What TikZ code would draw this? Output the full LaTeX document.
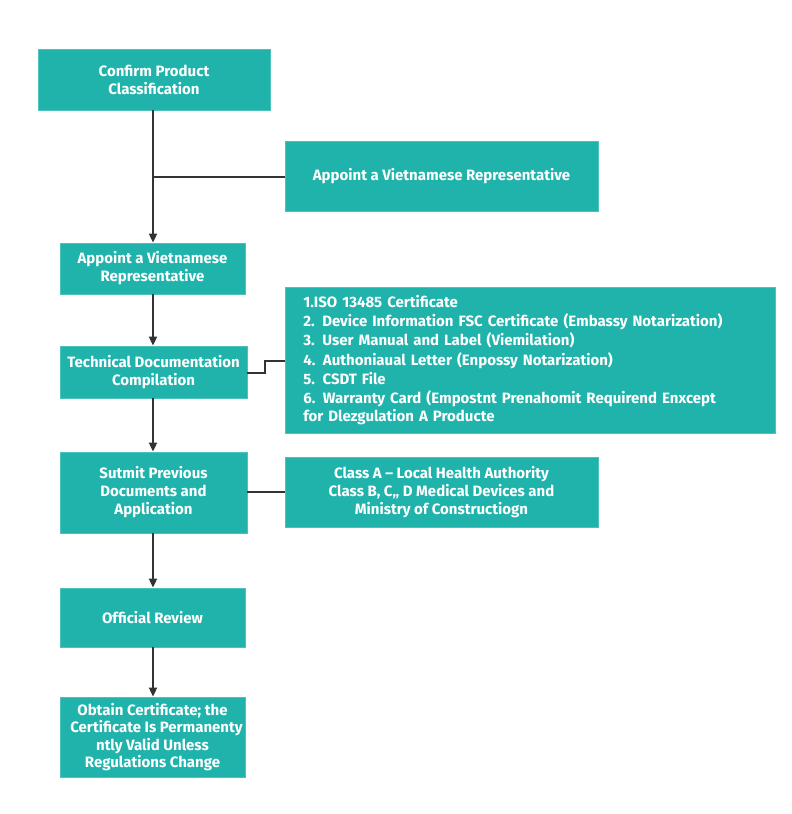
\documentclass[tikz,border=0pt]{standalone}
\usepackage{fontspec}
\setmainfont{Fira Sans}
\usetikzlibrary{arrows.meta}
\definecolor{teal1}{HTML}{20B3AC}
\definecolor{line1}{HTML}{333333}
\tikzset{
  box/.style={draw=teal1!80!white, line width=0.8pt, fill=teal1, text=white, align=center, font=\fontsize{15}{18}\selectfont\bfseries, inner sep=0pt},
  conn/.style={draw=line1, line width=1.8pt},
  arr/.style={conn, -{Triangle[length=9pt,width=8pt]}}
}
\begin{document}
\begin{tikzpicture}[x=1pt,y=-1pt]
\useasboundingbox (0,0) rectangle (792,814);
\fill[white] (0,0) rectangle (792,814);
% main column boxes
\node[box, minimum width=232pt, minimum height=61pt] (b1) at (154,79.5) {Confirm Product\\Classification};
\node[box, minimum width=185pt, minimum height=51pt] (b2) at (152.5,268.5) {Appoint a Vietnamese\\Representative};
\node[box, minimum width=187pt, minimum height=52pt] (b3) at (153.5,372) {Technical Documentation\\Compilation};
\node[box, minimum width=187pt, minimum height=81pt] (b4) at (153.5,492.5) {Sutmit Previous\\Documents and\\Application};
\node[box, minimum width=185pt, minimum height=59pt] (b5) at (152.5,617.5) {Official Review};
\node[box, minimum width=185pt, minimum height=80pt, font=\fontsize{15}{17.5}\selectfont\bfseries] (b6) at (152.5,737) {Obtain Certificate; the\\\hspace*{8pt}Certificate Is Permanenty\\ntly Valid Unless\hspace*{30pt}\\Regulations Change};
% side boxes
\node[box, minimum width=313pt, minimum height=70pt] (s1) at (441.5,176) {Appoint a Vietnamese Representative};
\node[box, minimum width=490pt, minimum height=146pt, align=left, anchor=west, text width=454pt, inner xsep=18pt] (s2) at (285,360) {\fontsize{15}{19.3}\selectfont 1.ISO 13485 Certificate\\2. Device Information FSC Certificate (Embassy Notarization)\\3. User Manual and Label (Viemilation)\\4. Authoniaual Letter (Enpossy Notarization)\\5. CSDT File\\6. Warranty Card (Empostnt Prenahomit Requirend Enxcept\\for Dlezgulation A Producte};
\node[box, minimum width=313pt, minimum height=70pt] (s3) at (441.5,492) {Class A – Local Health Authority\\Class B, C,, D Medical Devices and\\Ministry of Constructiogn};
% connectors
\coordinate (j1) at (153,177);
\draw[arr] (b1.south -| j1) -- (b2.north -| j1);
\draw[conn] (j1) -- (s1.west |- j1);
\draw[arr] (b2.south -| j1) -- (b3.north -| j1);
\coordinate (k1) at (265,373);
\coordinate (k2) at (265,361);
\draw[conn] (b3.east |- k1) -- (k1) -- (k2) -- (s2.west |- k2);
\draw[arr] (b3.south -| j1) -- (b4.north -| j1);
\draw[conn] (b4.east |- s3.west) -- (s3.west);
\draw[arr] (b4.south -| j1) -- (b5.north -| j1);
\draw[arr] (b5.south -| j1) -- (b6.north -| j1);
\end{tikzpicture}
\end{document}
